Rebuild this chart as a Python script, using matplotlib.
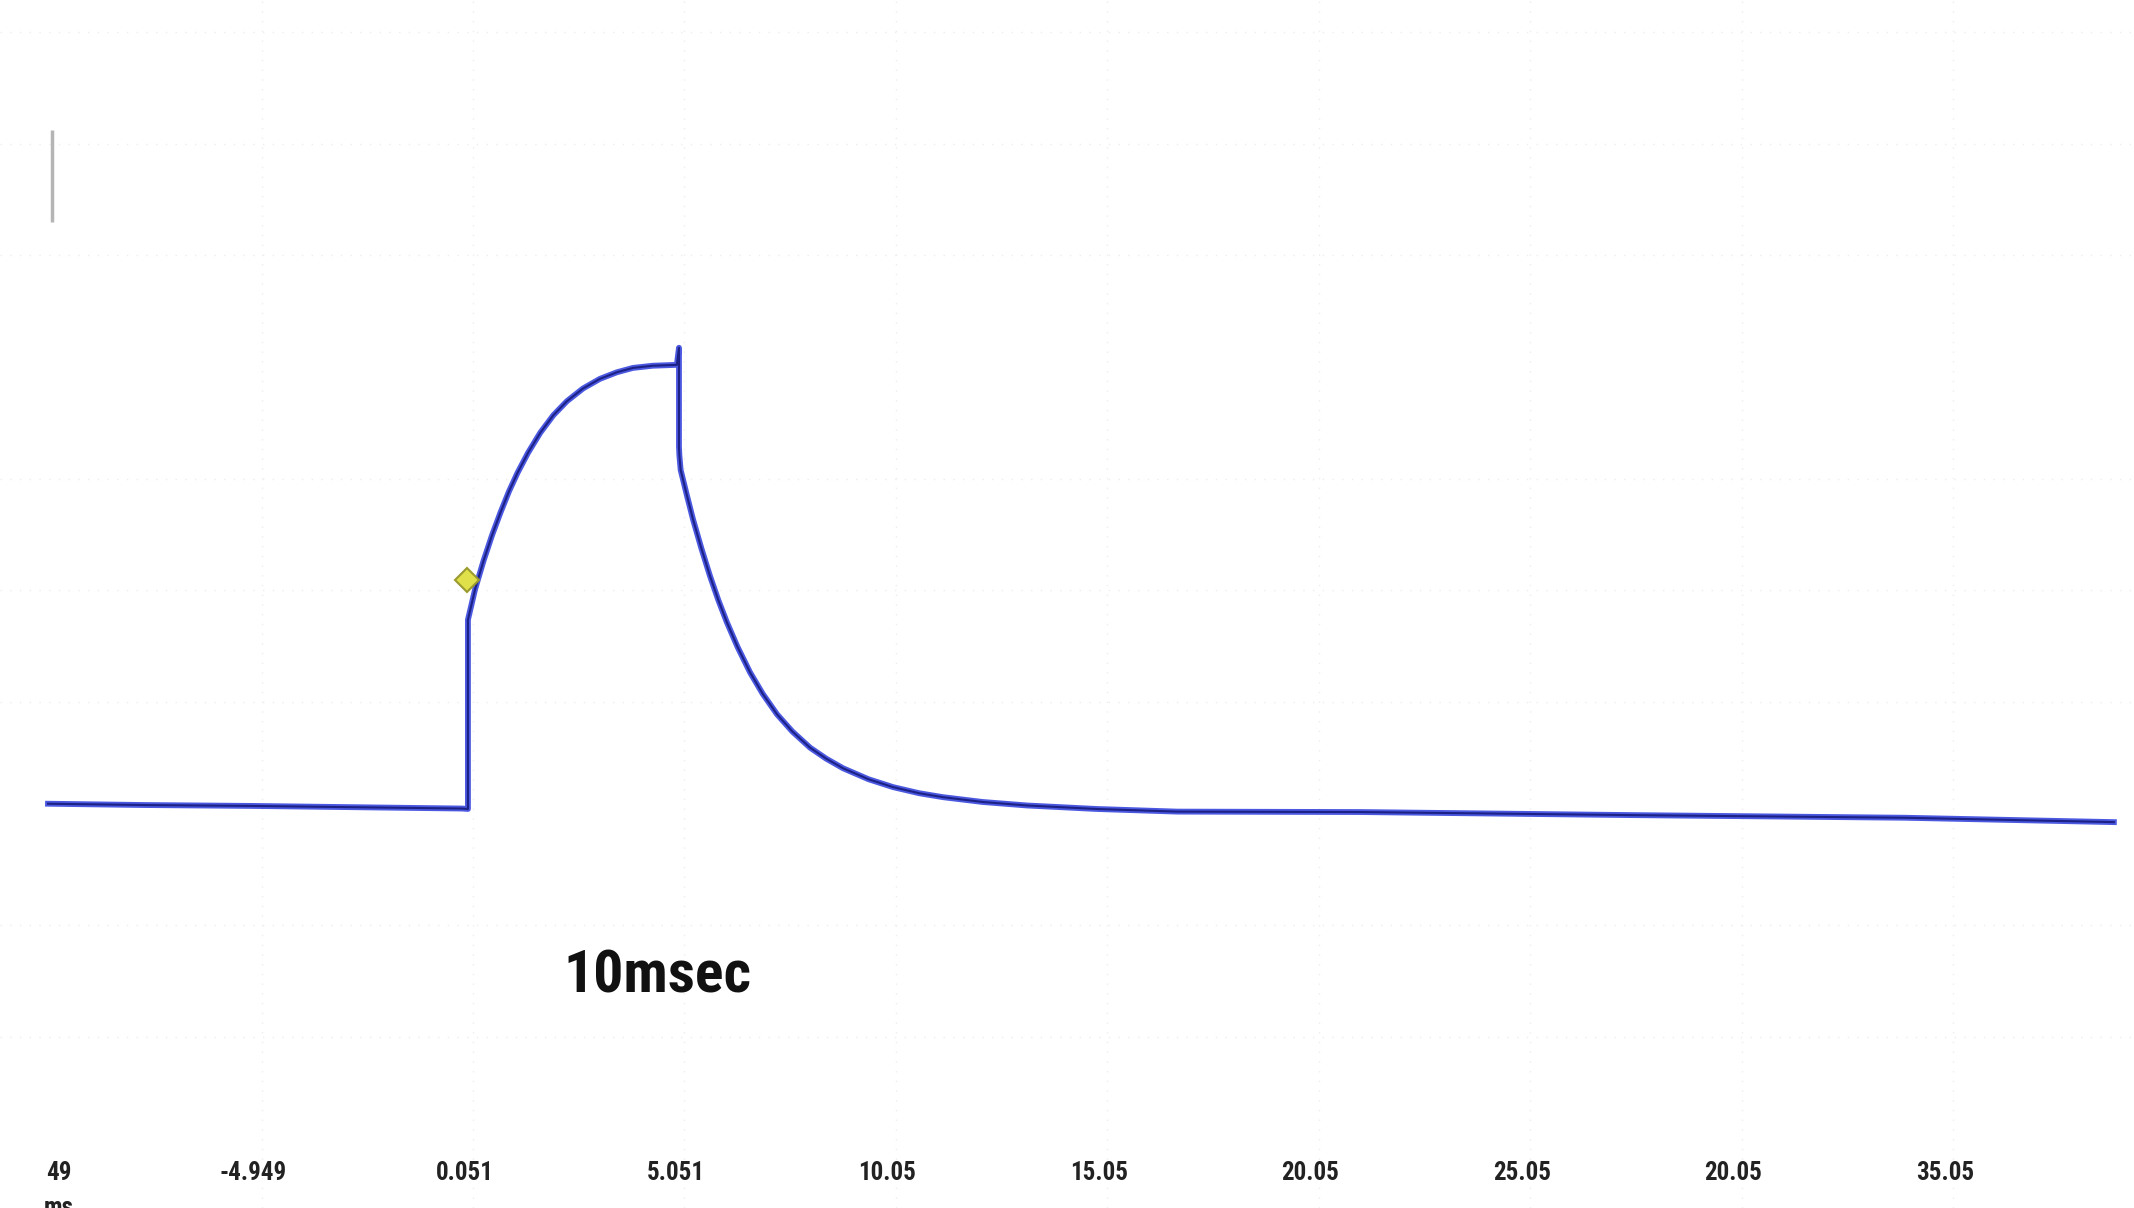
import matplotlib.pyplot as plt
from matplotlib import font_manager

# trace (time in ms, signal in arbitrary units, baseline ~0)
time_ms = [-9.80, -7.5, -5.0, -2.5, 0.0, 0.13,
           0.13, 0.30, 0.50, 0.70, 0.90, 1.10, 1.30, 1.55, 1.84, 2.15, 2.47,
           2.85, 3.25, 3.65, 4.03, 4.50, 5.07, 5.12,
           5.12, 5.13, 5.16, 5.30, 5.45, 5.65, 5.85, 6.05, 6.25, 6.50, 6.80,
           7.10, 7.44, 7.80, 8.22, 8.60, 9.00, 9.60, 10.18, 10.80, 11.36,
           12.30, 13.35, 15.0, 16.9, 21.25, 27.68, 34.11, 39.05]
signal = [0.5, 0.2, 0.0, -0.3, -0.6, -0.7,
          42.5, 49.5, 56.0, 61.8, 67.0, 71.8, 76.0, 80.6, 85.2, 89.2, 92.4,
          95.3, 97.5, 99.0, 100.0, 100.5, 100.7, 104.6,
          82.0, 80.0, 76.7, 71.2, 65.5, 58.8, 52.6, 47.0, 42.0, 36.4, 30.5,
          25.6, 20.9, 17.0, 13.3, 10.8, 8.6, 6.1, 4.3, 2.9, 2.0,
          0.9, 0.1, -0.7, -1.3, -1.4, -2.1, -2.7, -3.7]

# cursor marker
marker_t = [0.11]
marker_v = [51.6]

# small gray bar at top left
bar_t = [-9.705, -9.705]
bar_v = [154.3, 133.3]

# x labels as printed (scan shows 20.05 twice)
tick_pos = [-9.55, -4.949, 0.051, 5.051, 10.05, 15.05, 20.05, 25.05, 30.05, 35.05]
tick_lab = ["49", "-4.949", "0.051", "5.051", "10.05", "15.05", "20.05", "25.05", "20.05", "35.05"]

# faint background grid
grid_x = [-4.75, 0.25, 5.25, 10.25, 15.25, 20.25, 25.25, 30.25, 35.25]
grid_y = [-52.8, -27.3, 23.7, 49.2, 74.7, 125.7, 151.2, 176.7]

# pick a narrow font if the box has one
names = {f.name for f in font_manager.fontManager.ttflist}
cond = {f.name for f in font_manager.fontManager.ttflist if str(f.stretch) in ('condensed', 'semi-condensed')}
narrow = None
for n in ['Liberation Sans Narrow', 'Roboto Condensed', 'Open Sans Condensed', 'Noto Sans Condensed']:
  if n in names:
    narrow = n
    break
if narrow is not None:
  lab_font = dict(family=[narrow, 'DejaVu Sans'])
  big_size, tick_size = 43, 18
elif 'DejaVu Sans' in cond:
  lab_font = dict(family=['DejaVu Sans'], fontstretch='condensed')
  big_size, tick_size = 38, 16
else:
  lab_font = dict(family=['Lato', 'DejaVu Sans'])
  big_size, tick_size = 40, 17

fig = plt.figure(figsize=(21.34, 12.08), dpi=100)
ax = fig.add_axes([0, 0, 1, 1])
ax.set_xlim(-10.935, 39.526)
ax.set_ylim(-91.8, 184)
ax.axis('off')

for gx in grid_x:
  ax.axvline(gx, color='#eeeeee', lw=1, ls=(0, (1, 6)), zorder=0)
for gy in grid_y:
  ax.axhline(gy, color='#eeeeee', lw=1, ls=(0, (1, 6)), zorder=0)

ax.plot(bar_t, bar_v, color='#b5b5b5', lw=2.5, solid_capstyle='butt')

# blue trace with darker core
ax.plot(time_ms, signal, color='#4b58e0', lw=4.2, solid_joinstyle='round', zorder=3)
ax.plot(time_ms, signal, color='#1c2285', lw=1.5, solid_joinstyle='round', zorder=4)

ax.plot(marker_t, marker_v, marker='D', ms=12, color='#e0e04a',
        markeredgecolor='#9a9a30', markeredgewidth=1.5, ls='none', zorder=5)

ax.text(4.61, -39.0, "10msec", fontsize=big_size, fontweight='bold',
        ha='center', va='center', color='#111111', **lab_font)

tr = ax.get_xaxis_transform()
for p, lab in zip(tick_pos, tick_lab):
  ax.text(p, 0.029, lab, transform=tr, fontsize=tick_size, fontweight='bold',
          ha='center', va='center', color='#222222', **lab_font)

ax.text(-9.55, 0.0, "ms", transform=tr, fontsize=tick_size, fontweight='bold',
        ha='center', va='center', color='#222222', **lab_font)

fig.savefig("out.png", dpi=100)
